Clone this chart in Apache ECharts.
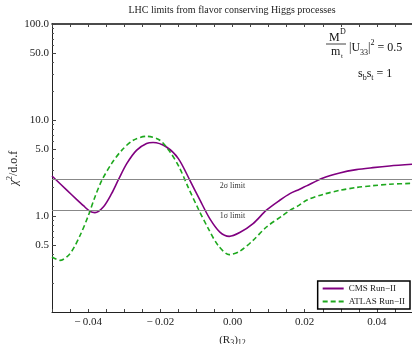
<!DOCTYPE html>
<html><head><meta charset="utf-8">
<script src="https://cdn.jsdelivr.net/npm/echarts@6/dist/echarts.min.js"></script>
<style>html,body{margin:0;padding:0;background:#fff}#c{width:412px;height:344px}</style>
</head><body><div id="c"></div>
<script>
const titleText = 'LHC limits from flavor conserving Higgs processes';
const seriesNames = ['CMS Run\u2212II', 'ATLAS Run\u2212II'];
const cmsX = [-0.05,-0.0459,-0.0432,-0.0413,-0.0395,-0.0381,-0.0358,-0.0335,-0.0316,-0.0293,-0.0266,-0.0238,-0.0220,-0.0183,-0.0150,-0.0118,-0.0090,-0.0063,-0.0035,-0.0009,0.0020,0.0057,0.0094,0.0131,0.0159,0.0186,0.0205,0.0251,0.0297,0.0343,0.0389,0.0435,0.05];
const cmsY = [2.61,1.86,1.49,1.28,1.12,1.085,1.24,1.71,2.39,3.51,4.83,5.68,5.82,5.23,3.96,2.35,1.46,0.94,0.68,0.614,0.672,0.833,1.15,1.46,1.71,1.90,2.06,2.49,2.81,3.04,3.19,3.32,3.46];
const atlasX = [-0.05,-0.0478,-0.0450,-0.0422,-0.0399,-0.0381,-0.0362,-0.0335,-0.0307,-0.0275,-0.0238,-0.0201,-0.0173,-0.0148,-0.0123,-0.0095,-0.0067,-0.0040,-0.0009,0.0020,0.0057,0.0094,0.0140,0.0159,0.0184,0.0205,0.0251,0.0297,0.0343,0.0389,0.0435,0.05];
const atlasY = [0.374,0.345,0.406,0.630,1.017,1.58,2.35,3.51,4.83,6.15,6.76,6.15,4.64,3.24,2.00,1.19,0.739,0.495,0.396,0.429,0.558,0.768,1.017,1.146,1.29,1.46,1.68,1.85,1.98,2.07,2.14,2.19];
const limitNames = ['2\u03C3 limit', '1\u03C3 limit'];
const limitValues = [2.39, 1.15];
const xTickLabels = [-0.04, -0.02, 0, 0.02, 0.04];
const yTickLabels = [0.5, 1, 5, 10, 50, 100];
const yMinorTicks = [0.2,0.3,0.4,0.6,0.7,0.8,0.9,2,3,4,6,7,8,9,20,30,40,60,70,80,90];

const F = 'Liberation Serif';
const C = '#222';
const pairs = (xs, ys) => xs.map((x, i) => [x, ys[i]]);

const chart = echarts.init(document.getElementById('c'), null, {renderer: 'canvas'});
chart.setOption({
  animation: false,
  backgroundColor: '#fff',
  grid: {left: 52, right: -1, top: 24, bottom: 32, containLabel: false, outerBoundsMode: 'none'},
  legend: {
    orient: 'vertical', right: 2, bottom: 35, data: seriesNames,
    backgroundColor: '#fff', borderColor: '#000', borderWidth: 1.5, borderRadius: 0,
    padding: [3, 5, 3, 4], itemWidth: 21, itemHeight: 10, itemGap: 4,
    itemStyle: {opacity: 0},
    textStyle: {fontFamily: F, fontSize: 9, color: C}
  },
  xAxis: [{
    type: 'value', min: -0.05, max: 0.05, interval: 0.005, position: 'bottom',
    name: '(R{sub|3}){sub|12}', nameLocation: 'middle', nameGap: 19,
    nameTextStyle: {fontFamily: F, fontSize: 11, color: C, lineHeight: 14,
      rich: {sub: {fontFamily: F, fontSize: 8, color: C, verticalAlign: 'bottom'}}},
    axisLine: {show: true, onZero: false, lineStyle: {color: '#222', width: 1}},
    axisTick: {show: true, inside: true, length: 3, lineStyle: {color: '#444'}},
    axisLabel: {customValues: xTickLabels, fontFamily: F, fontSize: 11, color: C, margin: 5,
      formatter: v => (v < 0 ? '\u2212\u2009' : '') + Math.abs(v).toFixed(2)},
    splitLine: {show: false}
  }, {
    type: 'value', min: -0.05, max: 0.05, interval: 0.005, position: 'top',
    axisLine: {show: true, onZero: false, lineStyle: {color: '#111', width: 1.5}},
    axisTick: {show: true, inside: true, length: 3, lineStyle: {color: '#444'}},
    axisLabel: {show: false}, splitLine: {show: false}
  }],
  yAxis: [{
    type: 'log', logBase: 10, min: 0.1, max: 100, position: 'left',
    name: '{i|\u03C7}{sup|2}/d.o.f', nameLocation: 'middle', nameGap: 30, nameMoveOverlap: false,
    nameTextStyle: {fontFamily: F, fontSize: 12, color: C, lineHeight: 16,
      rich: {i: {fontFamily: F, fontSize: 12, fontStyle: 'italic', color: C},
             sup: {fontFamily: F, fontSize: 8, color: C, verticalAlign: 'top'}}},
    axisLine: {show: true, onZero: false, lineStyle: {color: '#222', width: 1}},
    axisTick: {show: true, inside: true, length: 4, customValues: yTickLabels, lineStyle: {color: '#444'}},
    axisLabel: {customValues: yTickLabels, fontFamily: F, fontSize: 11, color: C, margin: 3,
      formatter: v => Number(v).toFixed(1)},
    splitLine: {show: false}, minorTick: {show: false}
  }, {
    type: 'log', logBase: 10, min: 0.1, max: 100, position: 'left', offset: 0,
    axisLine: {show: false, onZero: false},
    axisTick: {show: true, inside: true, length: 2, customValues: yMinorTicks, lineStyle: {color: '#555'}},
    axisLabel: {show: false}, splitLine: {show: false}
  }],
  series: [{
    name: seriesNames[0], type: 'line', data: pairs(cmsX, cmsY),
    symbol: 'none', smooth: 0.3, z: 3,
    lineStyle: {color: '#800080', width: 1.6}, itemStyle: {color: '#800080'},
    markLine: {
      silent: true, symbol: 'none',
      lineStyle: {color: '#888', width: 1, type: 'solid'},
      label: {position: 'insideMiddleBottom', distance: 2, fontFamily: F, fontSize: 8, color: '#333',
        formatter: p => p.name},
      data: limitValues.map((v, i) => ({name: limitNames[i], yAxis: v}))
    }
  }, {
    name: seriesNames[1], type: 'line', data: pairs(atlasX, atlasY),
    symbol: 'none', smooth: 0.3, z: 3,
    lineStyle: {color: '#1ea81e', width: 1.6, type: [5, 3]}, itemStyle: {color: '#1ea81e'}
  }],
  graphic: [
    {type: 'text', x: 232, y: 10, style: {text: titleText, fontFamily: F, fontSize: 10, fill: C, align: 'center', verticalAlign: 'middle'}},
    {type: 'text', x: 329, y: 38, style: {text: 'M', fontFamily: F, fontSize: 12, fill: '#111', verticalAlign: 'middle'}},
    {type: 'text', x: 340, y: 32, style: {text: 'D', fontFamily: F, fontSize: 8, fill: '#111', verticalAlign: 'middle'}},
    {type: 'line', shape: {x1: 326, y1: 44, x2: 346, y2: 44}, style: {stroke: '#111', lineWidth: 0.8}},
    {type: 'text', x: 331, y: 52, style: {text: 'm', fontFamily: F, fontSize: 12, fill: '#111', verticalAlign: 'middle'}},
    {type: 'text', x: 341, y: 56, style: {text: 't', fontFamily: F, fontSize: 7, fill: '#111', verticalAlign: 'middle'}},
    {type: 'text', x: 349, y: 48, style: {text: '|U{sub|33}|{sup|2} = 0.5', fontFamily: F, fontSize: 12, lineHeight: 18, fill: '#111', verticalAlign: 'middle',
      rich: {sub: {fontFamily: F, fontSize: 8, fill: '#111', verticalAlign: 'bottom'}, sup: {fontFamily: F, fontSize: 8, fill: '#111', verticalAlign: 'top'}}}},
    {type: 'text', x: 358, y: 74, style: {text: 's{sub|b}s{sub|t} = 1', fontFamily: F, fontSize: 12, lineHeight: 16, fill: '#111', verticalAlign: 'middle',
      rich: {sub: {fontFamily: F, fontSize: 8, fill: '#111', verticalAlign: 'bottom'}}}}
  ]
});
</script></body></html>
